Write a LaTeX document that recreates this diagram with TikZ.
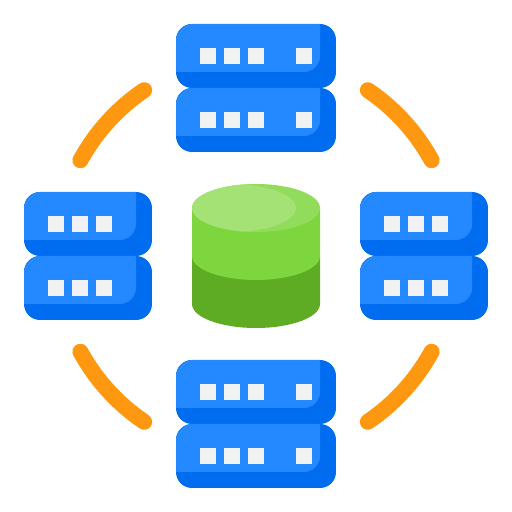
\documentclass[tikz,border=0pt]{standalone}
\usepackage{xcolor}
\usetikzlibrary{calc}
\definecolor{rackblue}{HTML}{2488FF}
\definecolor{rackdark}{HTML}{006DF0}
\definecolor{portgray}{HTML}{F1F2F2}
\definecolor{ringorange}{HTML}{FF9811}
\definecolor{dbtop}{HTML}{91DC5A}
\definecolor{dbshine}{HTML}{A4E276}
\definecolor{dbmid}{HTML}{7ED63E}
\definecolor{dbdark}{HTML}{5EAC24}
% left, top, width of one rack unit
\newcommand{\rackunit}[3]{%
  \begin{scope}
    \clip[rounded corners=16pt] (#1,#2) rectangle ++(#3,-64);
    \fill[rackdark] (#1,#2) rectangle ++(#3,-64);
    \fill[rackblue,rounded corners=16pt] (#1-30,#2+30) rectangle ($(#1+#3-16,#2-48)$);
  \end{scope}}
\newcommand{\rackport}[2]{\fill[portgray] (#1,#2) rectangle ++(16,-16);}
\begin{document}
\begin{tikzpicture}[x=1pt,y=1pt,
    ringarc/.style={ringorange,line width=16pt,line cap=round}]
  \useasboundingbox (0,0) rectangle (512,512);
  % top rack
  \rackunit{176}{488}{160}
  \rackunit{176}{424}{160}
  % bottom rack
  \rackunit{176}{152}{160}
  \rackunit{176}{88}{160}
  % left rack
  \rackunit{24}{320}{128}
  \rackunit{24}{256}{128}
  % right rack
  \rackunit{360}{320}{128}
  \rackunit{360}{256}{128}
  % ports
  \foreach \py in {464,400,128,64}{
    \foreach \px in {200,224,248,296}{\rackport{\px}{\py}}}
  \foreach \py in {296,232}{
    \foreach \px in {48,72,96,384,408,432}{\rackport{\px}{\py}}}
  % database
  \fill[dbdark] (192,256) -- (192,208) arc[x radius=64,y radius=24,start angle=180,end angle=360]
    -- (320,256) -- cycle;
  \fill[dbmid] (192,304) -- (192,256) arc[x radius=64,y radius=24,start angle=180,end angle=360]
    -- (320,304) -- cycle;
  \fill[dbtop] (256,304) ellipse[x radius=64,y radius=24];
  \begin{scope}
    \clip (256,304) ellipse[x radius=64,y radius=24];
    \fill[dbshine] (232,304) ellipse[x radius=64,y radius=24];
  \end{scope}
  % ring pieces
  \foreach \ra/\rb in {28.6/56,124/151.4,208.6/236,304/331.4}
    \draw[ringarc] ($(256,256)+(\ra:200)$) arc[radius=200,start angle=\ra,end angle=\rb];
\end{tikzpicture}
\end{document}
